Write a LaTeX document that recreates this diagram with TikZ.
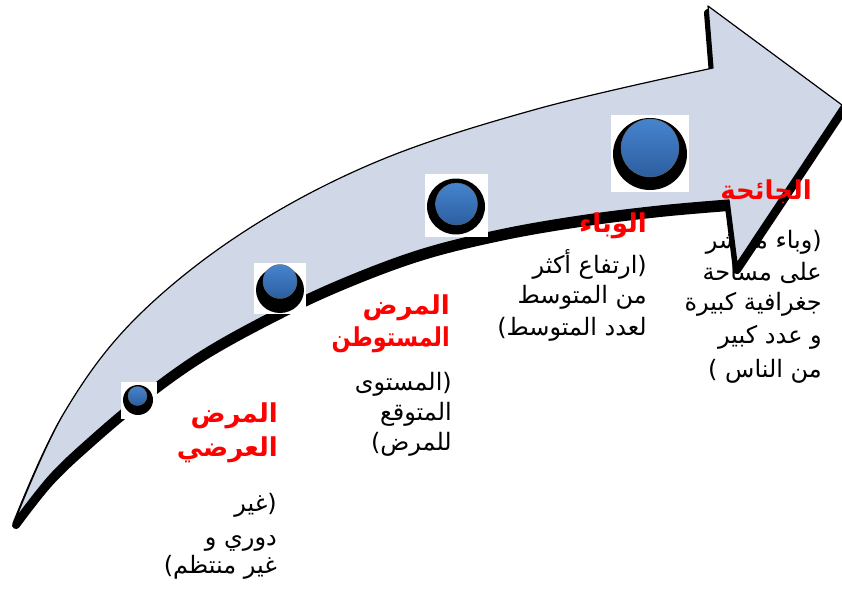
\documentclass[tikz,border=0pt]{standalone}
\usepackage{fontspec}
\newfontfamily\arabicfont[Script=Arabic]{DejaVu Sans}
\newfontfamily\plainfont{DejaVu Sans}
\TeXXeTstate=1
\definecolor{arrowfill}{RGB}{208,216,232}
\definecolor{balltop}{RGB}{70,132,206}
\definecolor{ballbot}{RGB}{44,94,160}
\tikzset{
  ttl/.style={anchor=base east, inner sep=0pt, text=red, font=\arabicfont\bfseries\fontsize{26}{30}\selectfont},
  txt/.style={anchor=base east, inner sep=0pt, text=black, font=\arabicfont\fontsize{24}{28}\selectfont},
  sq/.style={fill=white, draw=none},
  ballshadow/.style={fill=black},
  ball/.style={top color=balltop, bottom color=ballbot, draw=black!60, line width=0.4pt},
}
\begin{document}
\begin{tikzpicture}[x=1pt,y=-1pt]
\useasboundingbox (0,0) rectangle (842,589);
\fill[white] (0,0) rectangle (842,589);

% text partly hidden behind the arrow
\node[txt] (d1) at (822,248) {\beginR وباء منتشر\endR{\plainfont)}};
\node[txt] (d2) at (822,280) {\beginR على مساحة\endR};

% arrow shadow
\begin{scope}[shift={(0,7)}]
\path[fill=black, draw=black, line width=8pt, line join=round]
  plot[smooth,tension=0.6] coordinates {(16,518) (64,413) (134,320) (242,233) (376,162) (537,109) (713,68)}
  -- (708,6) -- (842,105) -- (737,263) -- (729,200)
  -- plot[smooth,tension=0.6] coordinates {(729,200) (660,206) (580,216) (500,230) (420,250) (340,280) (270,313) (200,352) (140,395) (90,437) (50,475) (16,518)}
  -- cycle;
\end{scope}
% arrow body
\path[fill=arrowfill, draw=black, line width=1.2pt, line join=round]
  plot[smooth,tension=0.6] coordinates {(16,518) (64,413) (134,320) (242,233) (376,162) (537,109) (713,68)}
  -- (708,6) -- (842,105) -- (737,263) -- (729,200)
  -- plot[smooth,tension=0.6] coordinates {(729,200) (660,206) (580,216) (500,230) (420,250) (340,280) (270,313) (200,352) (140,395) (90,437) (50,475) (16,518)}
  -- cycle;

% balls
\path[sq] (121,382) rectangle (157,419);
\path[ballshadow] (138,400) circle[radius=15];
\path[ball] (137.5,396) circle[radius=9.5];

\path[sq] (254,263) rectangle (306,314);
\path[ballshadow] (280,290) ellipse[x radius=24, y radius=23];
\path[ball] (280,281.5) circle[radius=17];

\path[sq] (425,174) rectangle (488,237);
\path[ballshadow] (456,206.5) ellipse[x radius=29, y radius=28];
\path[ball] (456.5,204) circle[radius=21];

\path[sq] (611,115) rectangle (689,192);
\path[ballshadow] (650,154) ellipse[x radius=37, y radius=36];
\path[ball] (650,148) circle[radius=29];

% group 1
\node[ttl] (a1) at (278,422) {\beginR المرض\endR};
\node[ttl] (a2) at (278,456) {\beginR العرضي\endR};
\node[txt] (a3) at (277,511) {\beginR غير\endR{\plainfont)}};
\node[txt] (a4) at (277,545) {\beginR دوري و\endR};
\node[txt] (a5) at (277,573) {{\plainfont(}\beginR غير منتظم\endR};

% group 2
\node[ttl] (b1) at (450,314) {\beginR المرض\endR};
\node[ttl] (b2) at (450,346) {\scalebox{0.86}[1]{\beginR المستوطن\endR}};
\node[txt] (b3) at (452,390) {\beginR المستوى\endR{\plainfont)}};
\node[txt] (b4) at (452,420) {\beginR المتوقع\endR};
\node[txt] (b5) at (452,450) {{\plainfont(}\beginR للمرض\endR};

% group 3
\node[ttl] (c1) at (647,232) {\beginR الوباء\endR};
\node[txt] (c2) at (647,273) {\beginR ارتفاع أكثر\endR{\plainfont)}};
\node[txt] (c3) at (647,303) {\beginR من المتوسط\endR};
\node[txt] (c4) at (647,335) {{\plainfont(}\beginR لعدد المتوسط\endR};

% group 4
\node[ttl] (d0) at (812,199) {\beginR الجائحة\endR};
\node[txt] (d3) at (822,310) {\beginR جغرافية كبيرة\endR};
\node[txt] (d4) at (822,343) {\beginR و عدد كبير\endR};
\node[txt] (d5) at (822,377) {{\plainfont(} \beginR من الناس\endR};
\end{tikzpicture}
\end{document}
